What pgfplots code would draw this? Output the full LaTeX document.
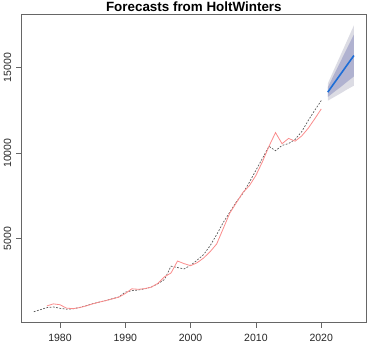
\documentclass[border=0pt]{standalone}
\usepackage{fontspec}
\setmainfont{Liberation Sans}
\usepackage{pgfplots}
\pgfplotsset{compat=1.18}
\definecolor{fitred}{RGB}{250,140,140}
\definecolor{fcblue}{RGB}{30,110,215}
\definecolor{band80}{RGB}{176,178,208}
\definecolor{band95}{RGB}{220,220,228}
\begin{document}
\begin{tikzpicture}
\begin{axis}[
  at={(21pt,22.3pt)}, anchor=south west,
  scale only axis, width=345.7pt, height=308.7pt,
  xmin=1974.04, xmax=2026.96, ymin=100, ymax=18125,
  axis line style={black!60, line width=0.8pt},
  xtick={1980,1990,2000,2010,2020},
  ytick={5000,10000,15000},
  scaled y ticks=false, scaled x ticks=false,
  tick align=outside, major tick length=5pt,
  tick style={black!60, line width=0.8pt},
  xtick pos=bottom, ytick pos=left,
  /pgf/number format/assume math mode=true,
  /pgf/number format/1000 sep={},
  tick label style={font=\fontsize{10.5}{12}\selectfont, text=black!85},
  xticklabel style={anchor=base, yshift=-14pt},
  yticklabel style={xshift=-5pt, rotate=90, anchor=base},
  title={\bfseries Forecasts from HoltWinters},
  title style={at={(0.5,1)}, anchor=base, yshift=-3.5pt, font=\fontsize{13.4}{15}\selectfont},
]
% 95% band
\addplot[fill=band95, draw=none] coordinates {
(2021,13060) (2022,13280) (2023,13500) (2024,13730) (2025,13940)
(2025,17460) (2024,16610) (2023,15760) (2022,14920) (2021,14060)} --cycle;
% 80% band
\addplot[fill=band80, draw=none] coordinates {
(2021,13280) (2022,13580) (2023,13870) (2024,14180) (2025,14480)
(2025,16920) (2024,16160) (2023,15390) (2022,14620) (2021,13840)} --cycle;
% observed (dashed)
\addplot[black!65, line width=0.7pt, dash pattern=on 1.8pt off 1.5pt] coordinates {
(1976,740) (1977,860) (1978,980) (1979,1020) (1980,940) (1981,890)
(1982,910) (1983,990) (1984,1090) (1985,1210) (1986,1300) (1987,1390)
(1988,1500) (1989,1600) (1990,1880) (1991,1970) (1992,2010) (1993,2080)
(1994,2180) (1995,2380) (1996,2620) (1997,3400) (1998,3320) (1999,3240)
(2000,3450) (2001,3750) (2002,4080) (2003,4600) (2004,5250) (2005,5950)
(2006,6550) (2007,7150) (2008,7650) (2009,8300) (2010,9000) (2011,9700)
(2012,10400) (2013,10140) (2014,10450) (2015,10560) (2016,10800)
(2017,11250) (2018,11900) (2019,12500) (2020,13070)};
% fitted (red)
\addplot[fitred, line width=0.8pt] coordinates {
(1978,1080) (1979,1200) (1980,1150) (1981,950) (1982,920) (1983,980)
(1984,1080) (1985,1200) (1986,1300) (1987,1390) (1988,1490) (1989,1590)
(1990,1800) (1991,2080) (1992,2050) (1993,2090) (1994,2180) (1995,2400)
(1996,2780) (1997,3000) (1998,3700) (1999,3550) (2000,3430) (2001,3600)
(2002,3880) (2003,4250) (2004,4700) (2005,5600) (2006,6500) (2007,7100)
(2008,7700) (2009,8100) (2010,8700) (2011,9500) (2012,10400) (2013,11200)
(2014,10550) (2015,10860) (2016,10700) (2017,11000) (2018,11450)
(2019,12000) (2020,12580)};
% forecast
\addplot[fcblue, line width=1.6pt] coordinates {
(2021,13560) (2022,14100) (2023,14630) (2024,15170) (2025,15700)};
\end{axis}
\pgfresetboundingbox
\path (0pt,0pt) rectangle (369pt,345pt);
\end{tikzpicture}
\end{document}
